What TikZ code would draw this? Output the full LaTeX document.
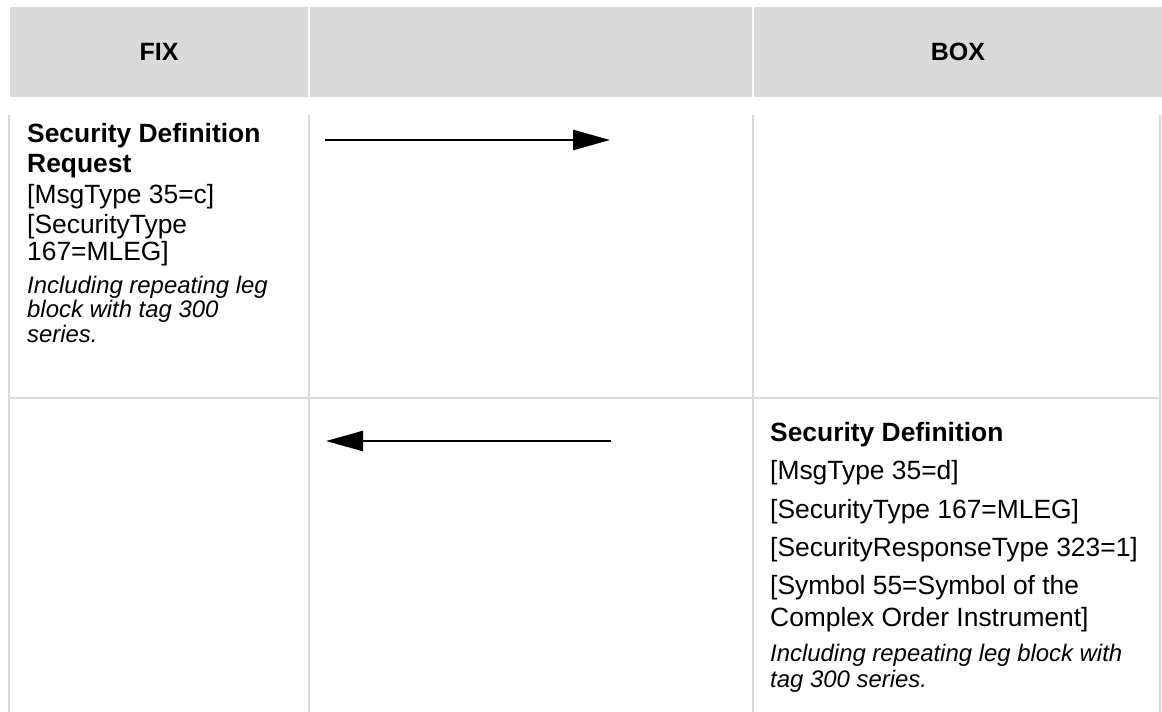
\documentclass[tikz,border=0pt]{standalone}
\usepackage{fontspec}
\setmainfont{Liberation Sans}
\usetikzlibrary{arrows.meta}
\definecolor{gridgray}{HTML}{D9D9D9}
\begin{document}
\begin{tikzpicture}[x=1pt,y=-1pt,
  hdr/.style={fill=gridgray, draw=none},
  hdrtext/.style={inner sep=0pt, font=\fontsize{25}{29}\selectfont\bfseries},
  gridline/.style={draw=gridgray, line width=2pt},
  tb/.style={anchor=base west, inner sep=0pt, font=\fontsize{26.4}{30}\selectfont\bfseries},
  tr/.style={anchor=base west, inner sep=0pt, font=\fontsize{26.4}{30}\selectfont},
  ti/.style={anchor=base west, inner sep=0pt, font=\fontsize{23.9}{27}\selectfont\itshape},
  msg/.style={line width=2.5pt, -{Triangle[length=37pt,width=20pt]}}]
\useasboundingbox (0,0) rectangle (1162,712);
% header
\path[hdr] (10,7) rectangle (308,97);
\path[hdr] (310,7) rectangle (752,97);
\path[hdr] (754,7) rectangle (1162,97);
\node[hdrtext] (hfix) at (159,52) {FIX};
\node[hdrtext] (hbox) at (958,52) {BOX};
% grid
\draw[gridline] (9,115) -- (9,712);
\draw[gridline] (309,115) -- (309,712);
\draw[gridline] (753,115) -- (753,712);
\draw[gridline] (1160,115) -- (1160,712);
\draw[gridline] (9,398) -- (1160,398);
% left cell
\node[tb] (l1) at (27,142) {Security Definition};
\node[tb] (l2) at (27,172.5) {Request};
\node[tr] (l3) at (27,203) {[MsgType 35=c]};
\node[tr] (l4) at (27,233) {[SecurityType};
\node[tr] (l5) at (27,260) {167=MLEG]};
\node[ti] (l6) at (27,293) {Including repeating leg};
\node[ti] (l7) at (27,317) {block with tag 300};
\node[ti] (l8) at (27,342) {series.};
% right cell
\node[tb] (r1) at (770,441) {Security Definition};
\node[tr] (r2) at (770,479.5) {[MsgType 35=d]};
\node[tr] (r3) at (770,518) {[SecurityType 167=MLEG]};
\node[tr] (r4) at (770,556.5) {[SecurityResponseType 323=1]};
\node[tr] (r5) at (770,594.5) {[Symbol 55=Symbol of the};
\node[tr] (r6) at (770,626.5) {Complex Order Instrument]};
\node[ti] (r7) at (770,661) {Including repeating leg block with};
\node[ti] (r8) at (770,687) {tag 300 series.};
% arrows
\coordinate (a1s) at (325,140);
\coordinate (a1e) at (610,140);
\coordinate (a2s) at (611,441);
\coordinate (a2e) at (326,441);
\draw[msg] (a1s) -- (a1e);
\draw[msg] (a2s) -- (a2e);
\end{tikzpicture}
\end{document}
